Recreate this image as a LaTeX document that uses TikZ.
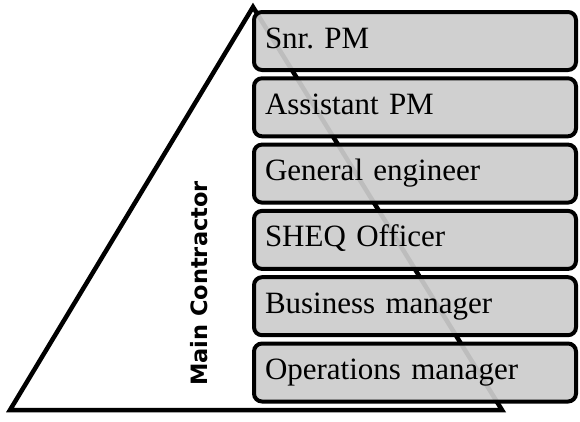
\documentclass[tikz,border=0pt]{standalone}
\usepackage{fontspec}
\setmainfont{Liberation Serif}
\newfontfamily\sidefont{DejaVu Sans}
\usetikzlibrary{positioning}
\tikzset{
role/.style={draw, line width=4pt, rounded corners=8pt, fill=black!20, fill opacity=0.93, text opacity=1,
  minimum width=322pt, minimum height=58pt, text width=300pt, inner xsep=11pt, align=left,
  text height=20pt, text depth=6pt, font=\fontsize{31}{36}\selectfont},
edge/.style={draw, line width=4.5pt, line join=miter},
}

\begin{document}
\begin{tikzpicture}[x=1pt, y=-1pt]
    \useasboundingbox (0,0) rectangle (580,421);

    %corners of the triangle
    \coordinate (top)   at (253,7);
    \coordinate (left)  at (10,410);
    \coordinate (right) at (502,410);
    \draw[edge] (left)--(top)--(right)--cycle;

    %side label
    \node[rotate=90, anchor=base, font=\sidefont\bfseries\fontsize{22.5}{25}\selectfont] (mc) at (207,283.5) {Main Contractor};

    %boxes on the right
    \node[role] (r1) at (415,41)    {Snr.\ PM};
    \node[role] (r2) at (415,107.3) {Assistant PM};
    \node[role] (r3) at (415,173.6) {General engineer};
    \node[role] (r4) at (415,239.9) {SHEQ Officer};
    \node[role] (r5) at (415,306.2) {Business manager};
    \node[role] (r6) at (415,372.5) {Operations manager};
\end{tikzpicture}
\end{document}
